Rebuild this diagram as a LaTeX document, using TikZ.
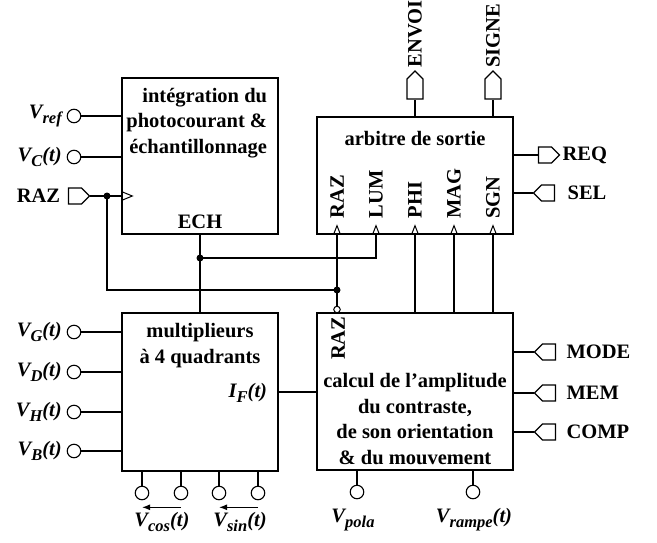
\documentclass[tikz,border=0pt]{standalone}
\usepackage{fontspec}
\setmainfont{Liberation Serif}
\usetikzlibrary{shapes.symbols,arrows.meta,calc}

% subscript of the signal names
\newcommand{\sbs}[1]{\raisebox{-5pt}{\fontsize{16.5}{16.5}\selectfont #1}}

\tikzset{
  every node/.style={font=\bfseries\fontsize{20.5}{25.5}\selectfont},
  bloc/.style={draw,line width=1.3pt,inner sep=0},
  padc/.style={circle,draw,line width=1.1pt,minimum size=13.5pt,inner sep=0},
  padout/.style={signal,draw,line width=1.1pt,signal to=east,minimum width=21pt,minimum height=16pt,inner sep=0},
  padin/.style={padout,signal to=west},
  padup/.style={signal,draw,line width=1.1pt,signal to=north,minimum width=16pt,minimum height=20pt,inner sep=0},
  portlab/.style={rotate=90,inner sep=0},
  chevup/.pic={\draw[line width=1pt] (-3.5,0) -- (0,-9) -- (3.5,0);},
  chevright/.pic={\draw[line width=1pt] (0,-4.5) -- (11,0) -- (0,4.5);}
}

\begin{document}
\begin{tikzpicture}[x=1pt,y=-1pt,line width=1.2pt]
  \useasboundingbox (0,0) rectangle (657,542);

  % the four blocks
  \node[bloc,minimum width=156pt,minimum height=156pt] (integ) at (200,156) {};
  \node[bloc,minimum width=196pt,minimum height=117pt] (arb) at (415,175.5) {};
  \node[bloc,minimum width=156pt,minimum height=158pt] (mult) at (200,392) {};
  \node[bloc,minimum width=196pt,minimum height=157pt] (calc) at (415,391.5) {};

  % texts of the blocks (base = last line)
  \node[anchor=base east,align=right] (tinteg) at (271,153)
    {intégration du\\photocourant \&\\échantillonnage};
  \node[anchor=base] (tech) at (200,228) {ECH};
  \node[anchor=base] (tarb) at (415,145) {arbitre de sortie};
  \node[anchor=base,align=center] (tmult) at (200,363) {multiplieurs\\à 4 quadrants};
  \node[anchor=base east] (tif) at (271,397) {\textit{I\sbs{F}(t)}};
  \node[anchor=base,align=center] (tcalc) at (415,464)
    {calcul de l’amplitude\\du contraste,\\de son orientation\\\& du mouvement};
  \node[portlab,anchor=east] (trazc) at (338,316) {RAZ};

  % inputs of the integration block
  \node[padc] (vref) at (74,116) {};
  \node[anchor=east] (lvref) at ([xshift=-1pt]vref.west) {\textit{V\sbs{ref}}};
  \node[padc] (vc) at (74,157) {};
  \node[anchor=east] (lvc) at ([xshift=-1pt]vc.west) {\textit{V\sbs{C}(t)}};
  \node[padout] (razin) at (75,196) {};
  \node[anchor=east] (lrazin) at (64,196) {RAZ};
  \draw (vref) -- (vref -| integ.west);
  \draw (vc) -- (vc -| integ.west);
  \draw (razin) -- (razin -| integ.west);
  \pic at (razin -| integ.west) {chevright};

  % reset line to the arbiter and the computing block
  \coordinate (j1) at (107,196);
  \coordinate (j2) at (337,290);
  \node[circle,draw,line width=1pt,minimum size=6.5pt,inner sep=0] (nraz) at (337,309.5) {};
  \draw (j1) |- (j2);
  \draw (arb.south -| j2) -- (nraz);
  \fill (j1) circle (3.5);
  \fill (j2) circle (3.5);

  % sampling signal
  \coordinate (j3) at (200,258);
  \draw (integ.south) -- (mult.north);
  \draw (j3) -| (arb.south -| 376,0);
  \fill (j3) circle (3.5);

  % ports of the arbiter
  \foreach \px/\nom in {337/RAZ,376/LUM,415/PHI,454/MAG,493/SGN}{
    \pic at (arb.south -| \px,0) {chevup};
    \node[portlab,anchor=west] at (\px,219) {\nom};
  }
  \foreach \px in {415,454,493}
    \draw (arb.south -| \px,0) -- (calc.north -| \px,0);

  % outputs on top
  \node[padup] (envoi) at (415,89) {};
  \node[portlab,anchor=west] (lenvoi) at (415,68) {ENVOI};
  \node[padup] (signe) at (493,89) {};
  \node[portlab,anchor=west] (lsigne) at (493,68) {SIGNE};
  \draw (arb.north -| envoi) -- (envoi);
  \draw (arb.north -| signe) -- (signe);

  % right side of the arbiter
  \node[padout] (req) at (545,155) {};
  \node[anchor=west,inner sep=0] (lreq) at (562,155) {REQ};
  \node[padin] (sel) at (548,193) {};
  \node[anchor=west,inner sep=0] (lsel) at (567,193) {SEL};
  \draw (req -| arb.east) -- (req);
  \draw (sel -| arb.east) -- (sel);

  % right side of the computing block
  \foreach \py/\nom in {352/MODE,393/MEM,432/COMP}{
    \node[padin] (p\nom) at (549,\py) {};
    \node[anchor=west,inner sep=0] at (566,\py) {\nom};
    \draw (p\nom -| calc.east) -- (p\nom);
  }

  % bottom of the computing block
  \node[padc] (vpola) at (357,492) {};
  \node (lvpola) at (353,520) {\textit{V\sbs{pola}}};
  \node[padc] (vrampe) at (473,492) {};
  \node (lvrampe) at (474,520) {\textit{V\sbs{rampe}(t)}};
  \draw (calc.south -| vpola) -- (vpola);
  \draw (calc.south -| vrampe) -- (vrampe);

  % multiplier inputs
  \foreach \py/\ind in {332/G,372/D,412/H,451/B}{
    \node[padc] (v\ind) at (74,\py) {};
    \node[anchor=east] at ([xshift=-1pt]v\ind.west) {\textit{V\sbs{\ind}(t)}};
    \draw (v\ind) -- (v\ind -| mult.west);
  }
  \foreach \px/\ind in {142/1,181/2,219/3,258/4}{
    \node[padc] (q\ind) at (\px,493) {};
    \draw (mult.south -| q\ind) -- (q\ind);
  }
  \draw[-{Latex[length=8pt,width=6pt]}] ($(q2.south)+(0,7)$) -- ($(q1.south)+(0,7)$);
  \draw[-{Latex[length=8pt,width=6pt]}] ($(q4.south)+(0,7)$) -- ($(q3.south)+(0,7)$);
  \node (lcos) at (162,522) {\textit{V\sbs{cos}(t)}};
  \node (lsin) at (240,522) {\textit{V\sbs{sin}(t)}};

  % link between multiplier and computing block
  \draw (mult.east) -- (mult.east -| calc.west);
\end{tikzpicture}
\end{document}
